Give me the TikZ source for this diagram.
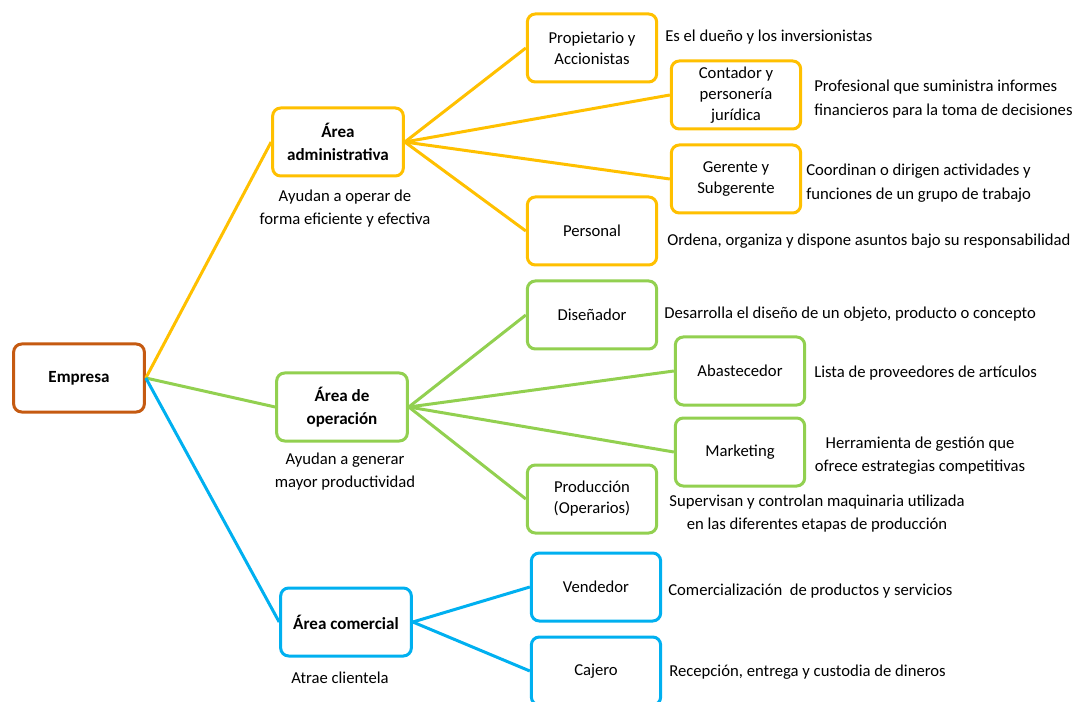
\documentclass[tikz,border=0pt]{standalone}
\usepackage{fontspec}
\setmainfont{Carlito}
\usetikzlibrary{calc}

\definecolor{empbrown}{HTML}{C55A11}
\definecolor{admyellow}{HTML}{FFC000}
\definecolor{opgreen}{HTML}{92D050}
\definecolor{combblue}{HTML}{00B0F0}

\begin{document}
\begin{tikzpicture}[x=0.75pt,y=-0.75pt,
	box/.style={draw, line width=2.25pt, rounded corners=6pt, fill=white,
		align=center, minimum width=97pt, minimum height=51pt, inner sep=2pt,
		font=\fontsize{12.5}{15.75}\selectfont},
	area/.style={box, minimum width=98pt, font=\bfseries\fontsize{12.8}{17}\selectfont},
	note/.style={align=center, inner sep=0pt, font=\fontsize{12.5}{17.25}\selectfont},
	desc/.style={anchor=west, align=left, inner sep=0pt, font=\fontsize{12.5}{17.5}\selectfont},
	link/.style={line width=2.25pt}]

      \clip (0,0) rectangle (1082,702);

      % raiz
      \node[area, draw=empbrown, minimum width=98pt] (EMP) at (79,378) {Empresa};

      % area administrativa
      \node[area, draw=admyellow] (ADM) at (338,142) {Área\\administrativa};
      \node[note] (ADMn) at (345,209) {Ayudan a operar de\\forma eficiente y efectiva};

      \node[box, draw=admyellow] (PRO) at (592,48) {Propietario y\\Accionistas};
      \node[box, draw=admyellow] (CON) at (736,95) {Contador y\\personería\\jurídica};
      \node[box, draw=admyellow] (GER) at (736,179) {Gerente y\\Subgerente};
      \node[box, draw=admyellow] (PER) at (592,231) {Personal};

      \node[desc] (PROd) at (665,37) {Es el dueño y los inversionistas};
      \node[desc] (CONd) at (814,99) {Profesional que suministra informes\\financieros para la toma de decisiones};
      \node[desc] (GERd) at (806,183) {Coordinan o dirigen actividades y\\funciones de un grupo de trabajo};
      \node[desc] (PERd) at (667,241) {Ordena, organiza y dispone asuntos bajo su responsabilidad};

      % area de operacion
      \node[area, draw=opgreen] (OPE) at (342,407) {Área de\\operación};
      \node[note] (OPEn) at (345,472) {Ayudan a generar\\mayor productividad};

      \node[box, draw=opgreen] (DIS) at (592,315) {Diseñador};
      \node[box, draw=opgreen] (ABA) at (740,371) {Abastecedor};
      \node[box, draw=opgreen] (MAR) at (740,452) {Marketing};
      \node[box, draw=opgreen] (PRD) at (592,499) {Producción\\(Operarios)};

      \node[desc] (DISd) at (664,314) {Desarrolla el diseño de un objeto, producto o concepto};
      \node[desc] (ABAd) at (814,373) {Lista de proveedores de artículos};
      \node[note] (MARd) at (920,456) {Herramienta de gestión que\\ofrece estrategias competitivas};
      \node[note] (PRDd) at (817,514) {Supervisan y controlan maquinaria utilizada\\en las diferentes etapas de producción};

      % area comercial
      \node[area, draw=combblue] (COM) at (346,622) {Área comercial};
      \node[note] (COMn) at (340,678) {Atrae clientela};

      \node[box, draw=combblue] (VEN) at (596,587) {Vendedor};
      \node[box, draw=combblue] (CAJ) at (596,671) {Cajero};

      \node[desc] (VENd) at (668,591) {Comercialización\ \ de productos y servicios};
      \node[desc] (CAJd) at (669,672) {Recepción, entrega y custodia de dineros};

      \draw [link, admyellow] (EMP.east) to (ADM.west);
      \draw [link, opgreen]   (EMP.east) to (OPE.west);
      \draw [link, combblue]  (EMP.east) to (COM.west);

      \draw [link, admyellow] (ADM.east) to (PRO.west);
      \draw [link, admyellow] (ADM.east) to (CON.west);
      \draw [link, admyellow] (ADM.east) to (GER.west);
      \draw [link, admyellow] (ADM.east) to (PER.west);

      \draw [link, opgreen]   (OPE.east) to (DIS.west);
      \draw [link, opgreen]   (OPE.east) to (ABA.west);
      \draw [link, opgreen]   (OPE.east) to (MAR.west);
      \draw [link, opgreen]   (OPE.east) to (PRD.west);

      \draw [link, combblue]  (COM.east) to (VEN.west);
      \draw [link, combblue]  (COM.east) to (CAJ.west);
  \end{tikzpicture}
\end{document}
